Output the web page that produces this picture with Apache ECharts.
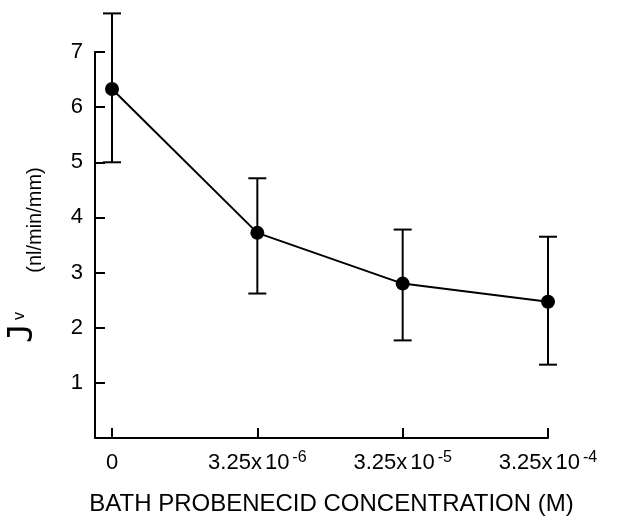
<!DOCTYPE html>
<html><head><meta charset="utf-8">
<script src="https://cdn.jsdelivr.net/npm/echarts@6/dist/echarts.min.js"></script>
<style>html,body{margin:0;padding:0;background:#fff}#c{width:630px;height:517px}</style>
</head><body><div id="c"></div>
<script>
const categories = ['0', '3.25x10^-6', '3.25x10^-5', '3.25x10^-4'];
const catBase = ['0', '3.25x', '3.25x', '3.25x'];
const catTen = ['', '10', '10', '10'];
const catExp = ['', '-6', '-5', '-4'];
const jvMean = [6.33, 3.72, 2.80, 2.47];
const jvUpper = [7.70, 4.71, 3.78, 3.65];
const jvLower = [5.00, 2.62, 1.77, 1.33];
const yTickValues = [1, 2, 3, 4, 5, 6, 7];
const xTitle = 'BATH PROBENECID CONCENTRATION (M)';
const yTitleMain = 'J';
const yTitleSub = 'v';
const yTitleUnit = '(nl/min/mm)';

const FONT = '"Liberation Sans", Arial, Helvetica, sans-serif';
const xIdx = categories.map((c, i) => i);
const lineData = xIdx.map(i => [i, jvMean[i]]);
const errData = xIdx.map(i => [i, jvLower[i], jvUpper[i]]);

const chart = echarts.init(document.getElementById('c'), null, {renderer: 'canvas'});
chart.setOption({
  backgroundColor: '#fff',
  animation: false,
  grid: {left: 95, right: 82, top: 52, bottom: 79, containLabel: false, outerBoundsMode: 'none'},
  xAxis: {
    type: 'value', min: -0.117, max: categories.length - 1,
    splitLine: {show: false},
    axisLine: {show: true, onZero: false, lineStyle: {color: '#000', width: 2}},
    axisTick: {show: true, inside: true, length: 10, customValues: xIdx, lineStyle: {color: '#000', width: 2}},
    axisLabel: {
      show: true, customValues: xIdx, margin: 13,
      formatter: v => {
        const i = Math.round(v);
        if (!catTen[i]) return '{b|' + catBase[i] + '}';
        return '{b|' + catBase[i] + '}{t|' + catTen[i] + '}{s|' + catExp[i] + '}';
      },
      rich: {
        b: {fontFamily: FONT, fontSize: 22, color: '#000', lineHeight: 24},
        t: {fontFamily: FONT, fontSize: 22, color: '#000', lineHeight: 24, padding: [0, 0, 0, 3]},
        s: {fontFamily: FONT, fontSize: 16, color: '#000', lineHeight: 16, padding: [0, 0, 10, 3]}
      }
    },
    name: xTitle, nameLocation: 'middle', nameGap: 54,
    nameTextStyle: {fontFamily: FONT, fontSize: 24, color: '#000', padding: [0, 0, 0, 20]}
  },
  yAxis: {
    type: 'value', min: 0, max: 7, interval: 1,
    splitLine: {show: false},
    axisLine: {show: true, onZero: false, lineStyle: {color: '#000', width: 2}},
    axisTick: {show: true, inside: true, length: 10, customValues: yTickValues, lineStyle: {color: '#000', width: 2}},
    axisLabel: {show: true, customValues: yTickValues, margin: 12, fontFamily: FONT, fontSize: 22, color: '#000'}
  },
  graphic: [
    {type: 'text', x: 23, y: 333, rotation: Math.PI / 2,
     style: {text: yTitleMain, font: '33px "DejaVu Sans Mono", monospace', fill: '#000', textAlign: 'center', textVerticalAlign: 'middle'}},
    {type: 'text', x: 20, y: 316, rotation: Math.PI / 2,
     style: {text: yTitleSub, font: '16px ' + FONT, fill: '#000', textAlign: 'center', textVerticalAlign: 'middle'}},
    {type: 'text', x: 35, y: 220, rotation: Math.PI / 2,
     style: {text: yTitleUnit, font: '20px ' + FONT, fill: '#000', textAlign: 'center', textVerticalAlign: 'middle'}}
  ],
  series: [
    {
      type: 'custom', clip: false, z: 3,
      data: errData,
      renderItem: (params, api) => {
        const x = api.value(0);
        const lo = api.coord([x, api.value(1)]);
        const hi = api.coord([x, api.value(2)]);
        const w = 9;
        const st = {stroke: '#000', lineWidth: 2};
        return {type: 'group', children: [
          {type: 'line', shape: {x1: lo[0], y1: lo[1], x2: hi[0], y2: hi[1]}, style: st},
          {type: 'line', shape: {x1: lo[0] - w, y1: lo[1], x2: lo[0] + w, y2: lo[1]}, style: st},
          {type: 'line', shape: {x1: hi[0] - w, y1: hi[1], x2: hi[0] + w, y2: hi[1]}, style: st}
        ]};
      }
    },
    {
      type: 'line', data: lineData, z: 4,
      symbol: 'circle', symbolSize: 14,
      itemStyle: {color: '#000'},
      lineStyle: {color: '#000', width: 2}
    }
  ]
});
</script>
</body></html>
